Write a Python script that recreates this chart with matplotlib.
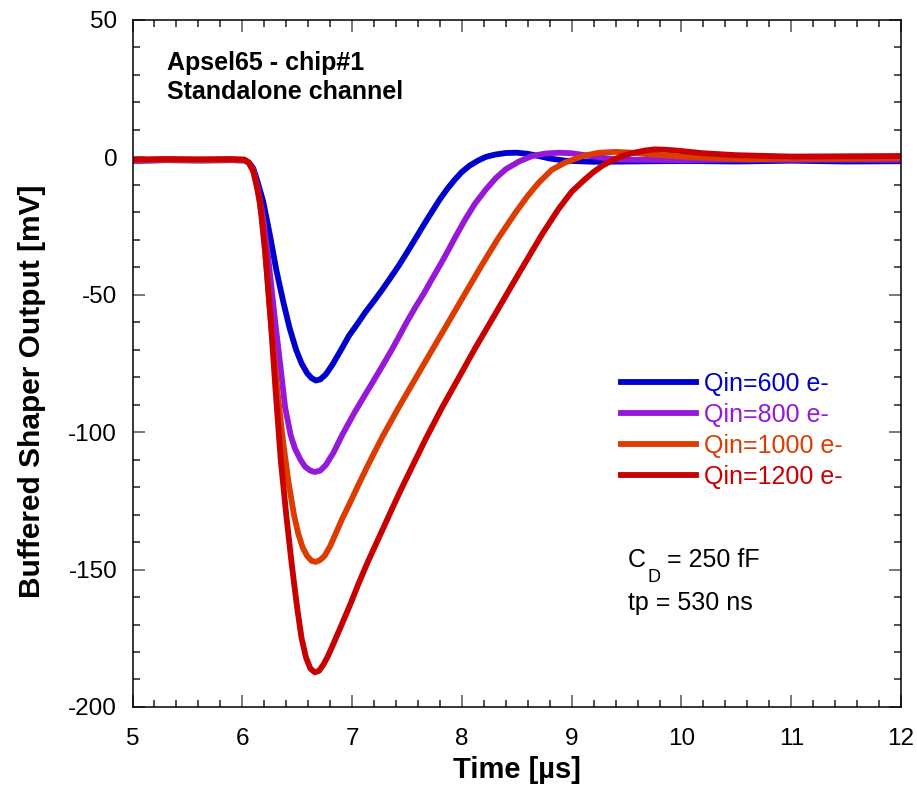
import matplotlib
matplotlib.use('Agg')
import matplotlib.pyplot as plt
from matplotlib.ticker import MultipleLocator

plt.rcParams['font.family'] = ['Liberation Sans', 'DejaVu Sans']
plt.rcParams['axes.unicode_minus'] = False

# time in us, output in mV
t_600 = [5.0, 5.3, 5.6, 5.9, 6.02,
         6.06, 6.10, 6.14, 6.19, 6.25, 6.31, 6.37, 6.43, 6.49, 6.54,
         6.59, 6.63, 6.67, 6.71, 6.76, 6.82, 6.90, 6.97, 7.05, 7.12,
         7.20, 7.27, 7.35, 7.43, 7.50, 7.58, 7.65, 7.73, 7.80, 7.87,
         7.94, 8.00, 8.07, 8.15, 8.22, 8.30, 8.40, 8.50, 8.60, 8.70,
         8.80, 8.94,
         9.2, 9.5, 10.0, 10.5, 11.0, 11.5, 12.0]
v_600 = [-1.2, -1.0, -1.1, -1.0, -1.1,
         -1.8, -4, -9, -16, -28, -41, -52, -62, -70, -75,
         -78.5, -80.3, -81.2, -80.8, -79, -75.5, -70, -65, -60.5, -56.4,
         -52.2, -48.4, -43.8, -39.1, -34.6, -29.4, -24.7, -19.6, -15.2, -11.3,
         -7.9, -5.3, -3.0, -1.1, 0.2, 1.0, 1.6, 1.7, 1.3, 0.5,
         -0.4, -1.2,
         -1.6, -1.5, -1.3, -1.5, -1.2, -1.5, -1.4]

t_800 = [5.0, 5.3, 5.6, 5.9, 6.02,
         6.06, 6.10, 6.14, 6.19, 6.24, 6.30, 6.35, 6.39, 6.44, 6.48,
         6.53, 6.57, 6.62, 6.66, 6.71, 6.76, 6.83, 6.91, 7.02, 7.12,
         7.20, 7.28, 7.36, 7.43, 7.50, 7.58, 7.66, 7.73, 7.81, 7.88,
         7.95, 8.03, 8.12, 8.22, 8.31, 8.40, 8.52, 8.64, 8.76, 8.88,
         9.0, 9.12, 9.25, 9.43,
         10.0, 10.5, 11.0, 11.5, 12.0]
v_800 = [-1.3, -1.0, -1.1, -1.0, -1.1,
         -2, -4.5, -11, -22, -38, -60, -77, -91, -101, -106,
         -110, -112.5, -114, -114.5, -114, -112, -107.5, -101, -93, -86.3,
         -81, -75.6, -70.1, -65, -59.8, -54.3, -49.1, -44.1, -38.6, -33.5,
         -28.3, -22.6, -16.8, -11.6, -7.5, -4.3, -1.5, 0.5, 1.4, 1.7,
         1.5, 0.8, 0, -0.8,
         -1.0, -0.8, -0.9, -0.8, -0.9]

t_1000 = [5.0, 5.3, 5.6, 5.9, 6.02,
          6.06, 6.10, 6.14, 6.18, 6.22, 6.26, 6.32, 6.37, 6.42, 6.47,
          6.51, 6.55, 6.59, 6.63, 6.67, 6.71, 6.75, 6.80, 6.85, 6.91,
          6.98, 7.05, 7.13, 7.20, 7.28, 7.43, 7.58, 7.73, 7.88, 8.03,
          8.18, 8.33, 8.49, 8.60, 8.70, 8.82, 8.94, 9.1, 9.25, 9.4,
          9.55, 9.70,
          10.0, 10.3, 10.6, 11.0, 11.5, 12.0]
v_1000 = [-0.9, -0.8, -0.9, -0.8, -0.9,
          -2, -5, -12, -22, -40, -60, -85, -103, -118, -130,
          -137, -142, -145, -146.8, -147.2, -146.5, -145, -141.5, -137, -131.5,
          -125.8, -119.8, -113.2, -107.6, -101.4, -90.6, -80.3, -70, -59.8, -49.5,
          -39.3, -29.5, -20, -14, -9.2, -4.5, -1.9, 0.5, 1.7, 2.0,
          1.7, 1.1,
          0.3, -0.3, -0.7, -0.4, -0.5, -0.3]

t_1200 = [5.0, 5.3, 5.6, 5.9, 6.02,
          6.06, 6.10, 6.13, 6.16, 6.21, 6.26, 6.30, 6.35, 6.40, 6.45,
          6.50, 6.54, 6.58, 6.62, 6.66, 6.70, 6.74, 6.78, 6.83, 6.90,
          6.98, 7.06, 7.14, 7.22, 7.30, 7.38, 7.45, 7.56, 7.67, 7.82,
          7.97, 8.12, 8.28, 8.43, 8.58, 8.73, 8.88, 9.0, 9.12, 9.20,
          9.28, 9.36, 9.43, 9.50, 9.58, 9.67, 9.75, 9.85, 9.95,
          10.2, 10.5, 11.0, 11.5, 12.0]
v_1200 = [-0.8, -0.6, -0.7, -0.6, -0.8,
          -2, -5, -10, -16, -35, -60, -83, -110, -130, -148,
          -164, -175, -182, -186, -187.4, -186.8, -184.5, -181.5, -177, -170.5,
          -163, -155, -147.5, -140.5, -133.5, -126.5, -120.5, -111.5, -102.5, -91,
          -80.3, -69.5, -58.6, -48.3, -38.1, -28, -18.8, -12.5, -8, -5.3,
          -3, -1.3, 0, 1.0, 1.8, 2.5, 2.9, 2.8, 2.5,
          1.5, 0.8, 0.3, 0.4, 0.5]

labels = ['Qin=600 e-', 'Qin=800 e-', 'Qin=1000 e-', 'Qin=1200 e-']
colors = ['#0000cc', '#9618d8', '#dc3c00', '#c80000']

fig = plt.figure(figsize=(9.17, 7.87), dpi=100)
ax = fig.add_axes([0.1445, 0.1017, 0.8381, 0.8729])

traces = [(t_600, v_600), (t_800, v_800), (t_1000, v_1000), (t_1200, v_1200)]
for (t, v), lab, c in zip(traces, labels, colors):
    ax.plot(t, v, color=c, lw=4.2, label=lab, solid_joinstyle='round')

ax.set_xlim(5, 12)
ax.set_ylim(-200, 50)
ax.xaxis.set_major_locator(MultipleLocator(1))
ax.xaxis.set_minor_locator(MultipleLocator(0.2))
ax.yaxis.set_major_locator(MultipleLocator(50))
ax.yaxis.set_minor_locator(MultipleLocator(10))
ax.tick_params(which='both', direction='in', top=True, right=True, labelsize=17.5)
ax.tick_params(axis='x', which='both', pad=15)
ax.tick_params(axis='y', which='both', pad=11)
ax.tick_params(which='major', length=8.5, width=1.1, color='#555555')
ax.tick_params(which='minor', length=5, width=1.1, color='#222222')
for s in ax.spines.values():
    s.set_linewidth(1.1)

ax.set_xlabel('Time [\u00b5s]', fontsize=21, fontweight='bold')
ax.set_ylabel('Buffered Shaper Output [mV]', fontsize=21.5, fontweight='bold')
ax.xaxis.set_label_coords(0.5, -0.072)
ax.yaxis.set_label_coords(-0.113, 0.46)

leg = ax.legend(loc='upper left', bbox_to_anchor=(0.636, 0.488), frameon=False, fontsize=18,
                handlelength=3.0, handletextpad=0.32, labelspacing=0.28, borderpad=0,
                borderaxespad=0, labelcolor='linecolor')

ax.text(0.045, 0.955, 'Apsel65 - chip#1\nStandalone channel', transform=ax.transAxes,
        fontsize=18, fontweight='bold', va='top', ha='left', linespacing=1.25)
ax.text(0.6445, 0.2038, 'C', transform=ax.transAxes, fontsize=18, va='baseline', ha='left')
ax.text(0.6695, 0.182, 'D', transform=ax.transAxes, fontsize=13, va='baseline', ha='left')
ax.text(0.696, 0.2038, '= 250 fF', transform=ax.transAxes, fontsize=18, va='baseline', ha='left')
ax.text(0.645, 0.141, 'tp = 530 ns', transform=ax.transAxes, fontsize=18, va='baseline', ha='left')

fig.savefig('out.png', dpi=100)
